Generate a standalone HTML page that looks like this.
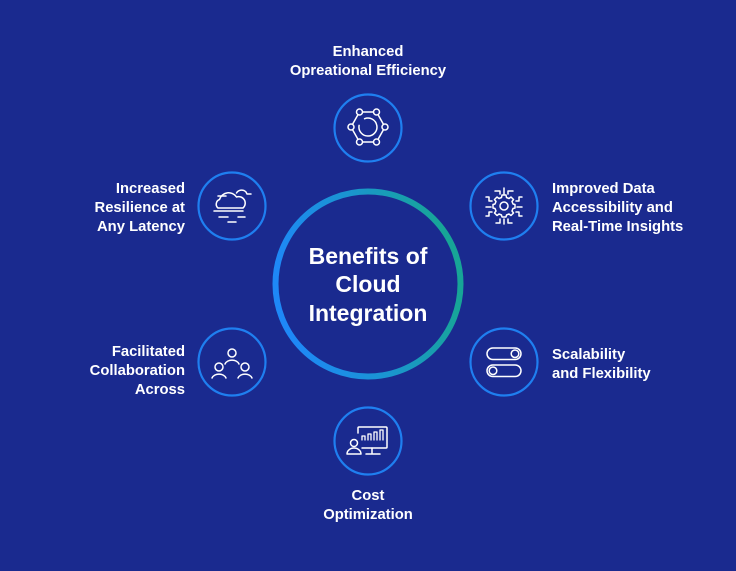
<!DOCTYPE html>
<html><head><meta charset="utf-8"><style>
html,body{margin:0;padding:0;background:#1a2a8f;}
svg{display:block}
text{font-family:"Liberation Sans",Arial,sans-serif;font-weight:bold;fill:#fff}
</style></head><body>
<svg width="736" height="571" viewBox="0 0 736 571" xmlns="http://www.w3.org/2000/svg">
<defs>
<linearGradient id="g" x1="0.05" y1="0.6" x2="0.95" y2="0.4">
<stop offset="0" stop-color="#1e88f7"/>
<stop offset="0.5" stop-color="#1a95d0"/>
<stop offset="1" stop-color="#17a597"/>
</linearGradient>
</defs>
<rect width="736" height="571" fill="#1a2a8f"/>
<!-- center -->
<circle cx="368" cy="284" r="92.5" fill="none" stroke="url(#g)" stroke-width="6"/>
<g font-size="23" text-anchor="middle">
<text x="368" y="264">Benefits of</text>
<text x="368" y="292">Cloud</text>
<text x="368" y="321">Integration</text>
</g>
<!-- small circles -->
<g fill="none" stroke="#1f7ff0" stroke-width="2.2">
<circle cx="368" cy="128" r="33.5"/>
<circle cx="504" cy="206" r="33.5"/>
<circle cx="504" cy="362" r="33.5"/>
<circle cx="368" cy="441" r="33.5"/>
<circle cx="232" cy="206" r="33.5"/>
<circle cx="232" cy="362" r="33.5"/>
</g>
<!-- labels -->
<g font-size="14.8">
<text x="368" y="56" text-anchor="middle">Enhanced</text>
<text x="368" y="75" text-anchor="middle">Opreational Efficiency</text>
<text x="552" y="193">Improved Data</text>
<text x="552" y="212">Accessibility and</text>
<text x="552" y="231">Real-Time Insights</text>
<text x="552" y="359">Scalability</text>
<text x="552" y="378">and Flexibility</text>
<text x="185" y="193" text-anchor="end">Increased</text>
<text x="185" y="212" text-anchor="end">Resilience at</text>
<text x="185" y="231" text-anchor="end">Any Latency</text>
<text x="185" y="356" text-anchor="end">Facilitated</text>
<text x="185" y="375" text-anchor="end">Collaboration</text>
<text x="185" y="394" text-anchor="end">Across</text>
<text x="368" y="500" text-anchor="middle">Cost</text>
<text x="368" y="519" text-anchor="middle">Optimization</text>
</g>
<!-- icons -->
<g fill="none" stroke="#fff" stroke-width="1.5" stroke-linecap="round" stroke-linejoin="round">
<!-- top hexagon -->
<polygon points="385,127 376.5,142 359.5,142 351,127 359.5,112 376.5,112"/>
<g fill="#1a2a8f">
<circle cx="385" cy="127" r="3"/><circle cx="376.5" cy="142" r="3"/><circle cx="359.5" cy="142" r="3"/>
<circle cx="351" cy="127" r="3"/><circle cx="359.5" cy="112" r="3"/><circle cx="376.5" cy="112" r="3"/>
</g>
<path d="M364.6,118.7 A9,9 0 1 1 359.1,125.4"/>
<!-- gear -->
<g transform="translate(504,206)">
<circle r="4"/>
<path d="M-2,-10 L2,-10 L2.5,-7.5 L5,-6.5 L7,-8 L9.5,-5.5 L8,-3.5 L9,-1 L11,-0.5 L11,3 L9,3.5 L8,6 L9.5,8 L7,10.5 L5,9 L2.5,10 L2,12 L-2,12 L-2.5,10 L-5,9 L-7,10.5 L-9.5,8 L-8,6 L-9,3.5 L-11,3 L-11,-0.5 L-9,-1 L-8,-3.5 L-9.5,-5.5 L-7,-8 L-5,-6.5 L-2.5,-7.5 Z" transform="translate(0,-1)"/>
<path d="M-4,-12 V-15 H-9 M0,-12 V-18 M4,-12 V-15 H9 M12,-5 H15 V-9 H18 M13,1 H18 M12,6 H15 V10 H18 M-12,-5 H-15 V-9 H-18 M-13,1 H-18 M-12,6 H-15 V10 H-18 M-4,13 V17 H-8 M0,13 V18 M4,13 V17 H8"/>
</g>
<!-- cloud -->
<path d="M218,208 A5,5 0 0 1 219.5,199.5 A9.5,9.5 0 0 1 236.5,197 A6.5,6.5 0 0 1 243,208 Z"/>
<path d="M214,211 H243 M218,196 H226 M236.5,193 A6,6 0 0 1 246,192 L247,194 H251 M219,217 H228 M238,217 H245 M228,222 H236"/>
<!-- people -->
<circle cx="232" cy="353" r="4"/>
<path d="M225,364 A7.5,6 0 0 1 239,364"/>
<circle cx="219" cy="367" r="4"/>
<path d="M212,378 A7.5,6 0 0 1 226,378"/>
<circle cx="245" cy="367" r="4"/>
<path d="M238,378 A7.5,6 0 0 1 252,378"/>
<!-- toggles -->
<rect x="487" y="348" width="34" height="11.5" rx="5.75"/>
<circle cx="515" cy="353.75" r="3.8"/>
<rect x="487" y="365" width="34" height="11.5" rx="5.75"/>
<circle cx="493" cy="370.75" r="3.8"/>
<!-- cost monitor -->
<path d="M358,433 V428 Q358,427 359,427 H386 Q387,427 387,428 V447 Q387,448 386,448 H362"/>
<path d="M372,448 V453 M366,454 H380"/>
<path d="M362,440 V436 H365 V440 M368,440 V434 H371 V440 M374,440 V432 H377 V440 M380,440 V430 H383 V440" stroke-width="1.3"/>
<circle cx="354" cy="443" r="3.5"/>
<path d="M347,454 A7,6 0 0 1 361,454 Z"/>
</g>
</svg>
</body></html>
